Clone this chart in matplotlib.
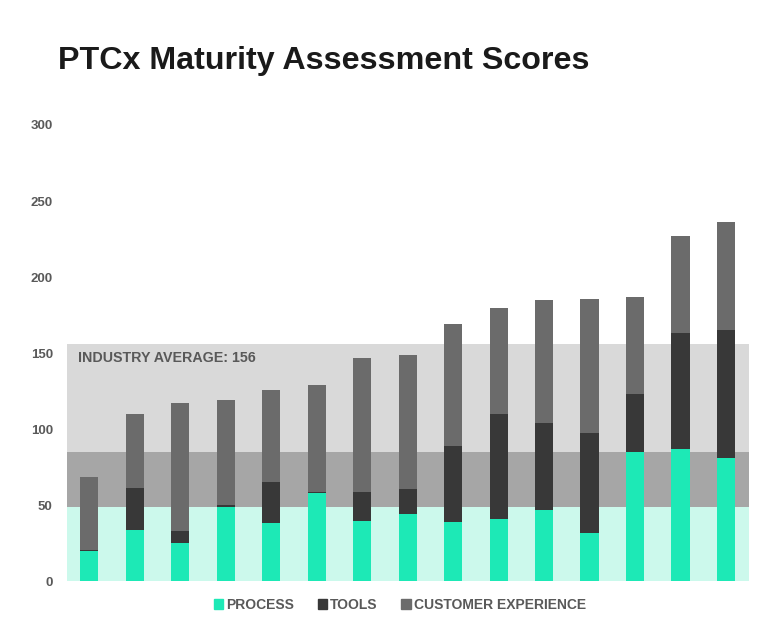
import matplotlib
matplotlib.use("Agg")
import matplotlib.pyplot as plt
import numpy as np
from matplotlib.patches import Patch

plt.rcParams['font.family'] = ['Liberation Sans', 'DejaVu Sans']

process = [20, 34, 25, 49, 38, 58, 39.5, 44.5, 39, 41, 47, 32, 85, 87, 81]
tools = [0.8, 27, 8, 1, 27, 1, 19.5, 16, 50, 69, 57, 65.5, 38, 76.5, 84]
customer_exp = [48, 49, 84, 69, 61, 70, 88, 88, 80, 70, 81, 88, 64, 63.5, 71]
series_names = ["PROCESS", "TOOLS", "CUSTOMER EXPERIENCE"]
band_edges = [0, 49, 85, 156]
industry_avg = 156
y_ticks = [0, 50, 100, 150, 200, 250, 300]

c_proc = "#1de9b6"
c_tools = "#383838"
c_cx = "#6b6b6b"
band_colors = ["#ccf9ec", "#a6a6a6", "#d9d9d9"]
txt = "#595959"

fig = plt.figure(figsize=(7.84, 6.25), dpi=100)
ax = fig.add_axes([0.085, 0.07, 0.87, 0.73])

n = len(process)
x = np.arange(n)
for i in range(3):
    ax.axhspan(band_edges[i], band_edges[i + 1], xmin=0, xmax=1, color=band_colors[i], lw=0, zorder=0)

p = np.array(process)
t = np.array(tools)
c = np.array(customer_exp)
w = 0.4
ax.bar(x, p, w, color=c_proc, zorder=2)
ax.bar(x, t, w, bottom=p, color=c_tools, zorder=2)
ax.bar(x, c, w, bottom=p + t, color=c_cx, zorder=2)

ax.set_xlim(-0.5, n - 0.5)
ax.set_ylim(0, 300)
ax.set_yticks(y_ticks)
ax.set_yticklabels([str(v) for v in y_ticks], fontsize=9.5, fontweight='bold', color=txt)
ax.tick_params(axis='y', length=0, pad=10)
ax.set_xticks([])
for s in ax.spines.values():
    s.set_visible(False)

ax.text(-0.25, 147, f"INDUSTRY AVERAGE: {industry_avg}", fontsize=10.3, fontweight='bold', color=txt,
        va='center', ha='left', zorder=3)

fig.text(0.074, 0.903, "PTCx Maturity Assessment Scores", fontsize=23.2, fontweight='bold', color="#1a1a1a",
         ha='left', va='center')

handles = [Patch(color=c_proc), Patch(color=c_tools), Patch(color=c_cx)]
leg = fig.legend(handles, series_names, loc='center', bbox_to_anchor=(0.51, 0.032), ncol=3, frameon=False,
                 handlelength=0.7, handleheight=0.7, handletextpad=0.2, columnspacing=1.7,
                 prop={'size': 10, 'weight': 'bold'})
for tx in leg.get_texts():
    tx.set_color(txt)

fig.savefig("out.png", dpi=100)
